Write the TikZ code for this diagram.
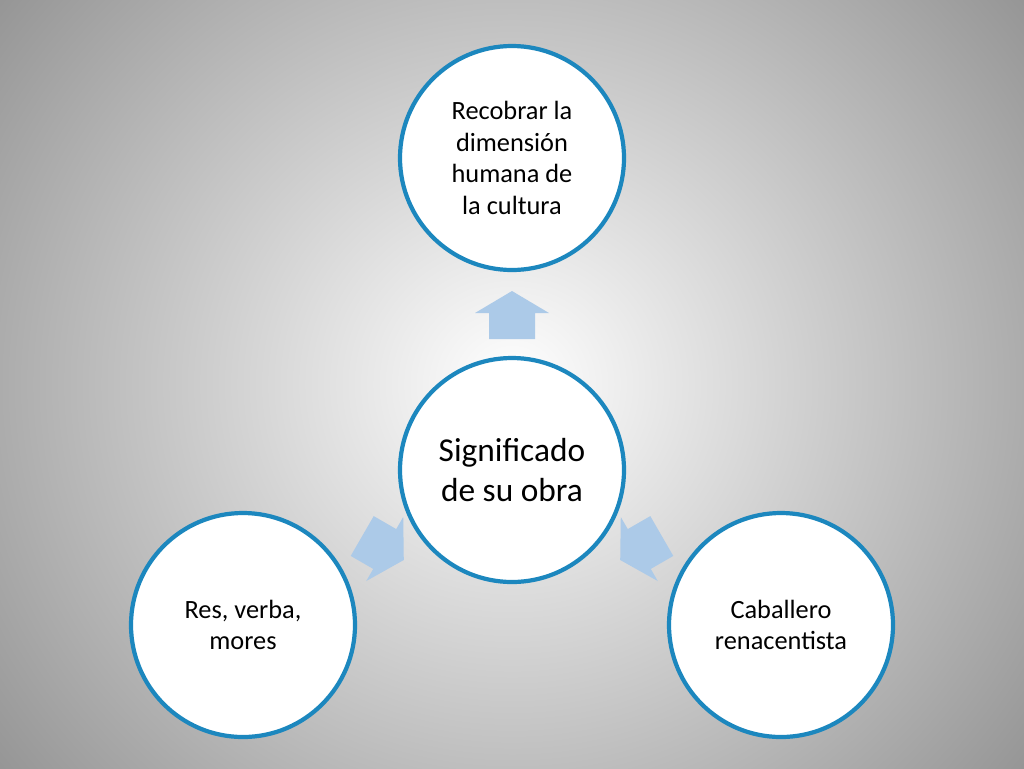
\documentclass[tikz,border=0pt]{standalone}
\usepackage{fontspec}
\setmainfont{Carlito}
\begin{document}
\begin{tikzpicture}[x=0.02cm,y=-0.02cm,
  circ/.style={circle,draw=cblue,line width=2.4pt,fill=white,minimum size={224*0.02cm},inner sep=0pt,align=center,font=\fontsize{15}{18}\selectfont},
  barrow/.style={fill=ablue,draw=none}]
\definecolor{cblue}{RGB}{28,135,190}
\definecolor{ablue}{RGB}{172,202,232}
\useasboundingbox (0,0) rectangle (1024,768);
\shade[inner color=white,outer color=black!42] (-150,-250) rectangle (1174,1018);
\node[circ,font=\fontsize{19}{22.7}\selectfont] (c) at (512,470) {Significado\\de su obra};
\node[circ] (t) at (512,158) {Recobrar la\\dimensión\\humana de\\la cultura};
\node[circ] (l) at (243,625) {Res, verba,\\mores};
\node[circ] (r) at (781,625) {Caballero\\renacentista};
\foreach \px/\py/\a in {512/315/0,383/548/240,641/548/120}{
  \begin{scope}[shift={(\px,\py)},rotate=\a]
  \fill[barrow] (0,-24) -- (37,-2) -- (23,-2) -- (23,24) -- (-23,24) -- (-23,-2) -- (-37,-2) -- cycle;
  \end{scope}}
\end{tikzpicture}
\end{document}
